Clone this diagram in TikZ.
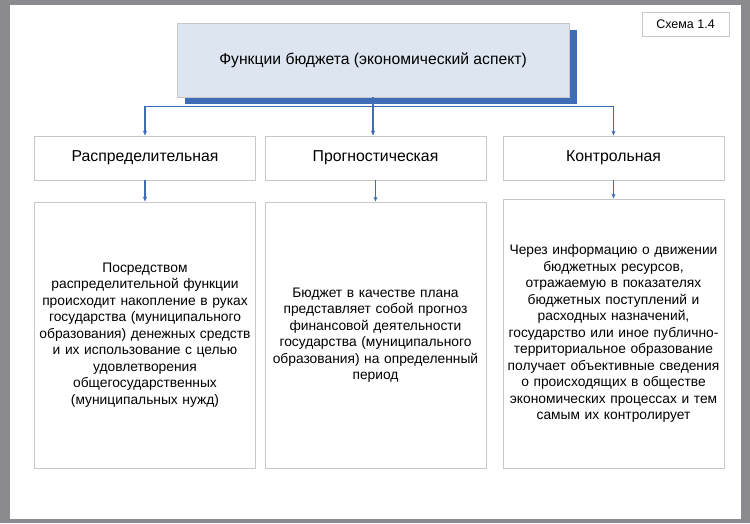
\documentclass[tikz,border=0pt]{standalone}
\usepackage{fontspec}
\setmainfont{Liberation Sans}
\usetikzlibrary{arrows.meta,positioning}

\definecolor{pagegray}{HTML}{8B8B8F}
\definecolor{linkblue}{HTML}{3F6DB5}
\definecolor{titlefill}{HTML}{DCE5F0}
\definecolor{boxline}{HTML}{C8C8C8}

\begin{document}
\begin{tikzpicture}[
    x=1pt, y=-1pt,
    box/.style={draw=boxline, line width=0.8pt, fill=white, align=center,
                inner sep=0pt, font=\fontsize{14}{15}\selectfont},
    mainbox/.style={box, draw=boxline, fill=titlefill, minimum width=392pt,
                    minimum height=74pt, font=\fontsize{15.7}{18}\selectfont},
    label/.style={box, minimum width=221pt, minimum height=44pt,
                  font=\fontsize{15.8}{18}\selectfont},
    body/.style={box, minimum width=221pt, text width=217pt,
                 font=\fontsize{13.8}{16.5}\selectfont},
    flow/.style={-{Stealth[length=5pt,width=4pt]}, draw=linkblue, line width=1.2pt},
]

    % page and frame
    \fill[pagegray] (0,0) rectangle (750,523);
    \fill[white] (10,4.5) rectangle (741,518.5);

    \node[box, minimum width=87pt, minimum height=24pt,
          font=\fontsize{12.5}{14}\selectfont] (scheme) at (685.5,24) {Схема 1.4};

    % title with its shadow
    \fill[linkblue] (185,30) rectangle (577,104);
    \node[mainbox] (title) at (373,60) {Функции бюджета (экономический аспект)};

    % the three functions
    \node[label] (distr) at (145,158) {Распределительная};
    \node[label] (progn) at (375.5,158) {Прогностическая};
    \node[label] (contr) at (613.5,158) {Контрольная};

    \node[body, minimum height=266pt] (distrtext) at (145,335)
        {Посредством\\распределительной функции\\происходит накопление в руках\\
         государства (муниципального\\образования) денежных средств\\
         и их использование с целью\\удовлетворения\\общегосударственных\\
         (муниципальных нужд)};
    \node[body, minimum height=266pt] (progntext) at (375.5,335)
        {Бюджет в качестве плана\\представляет собой прогноз\\финансовой деятельности\\
         государства (муниципального\\образования) на определенный\\период};
    \node[body, minimum height=269pt] (contrtext) at (613.5,333.5)
        {Через информацию о движении\\бюджетных ресурсов,\\отражаемую в показателях\\
         бюджетных поступлений и\\расходных назначений,\\государство или иное публично-\\
         территориальное образование\\получает объективные сведения\\
         о происходящих в обществе\\экономических процессах и тем\\самым их контролирует};

    % connectors
    \draw[flow] (title.south) -- (title.south |- progn.north);
    \draw[flow] (title.south) -- ++(0,9) -| (distr.north);
    \draw[flow] (title.south) -- ++(0,9) -| (contr.north);
    \draw[flow] (distr) -- (distrtext);
    \draw[flow] (progn) -- (progntext);
    \draw[flow] (contr) -- (contrtext);

\end{tikzpicture}
\end{document}
